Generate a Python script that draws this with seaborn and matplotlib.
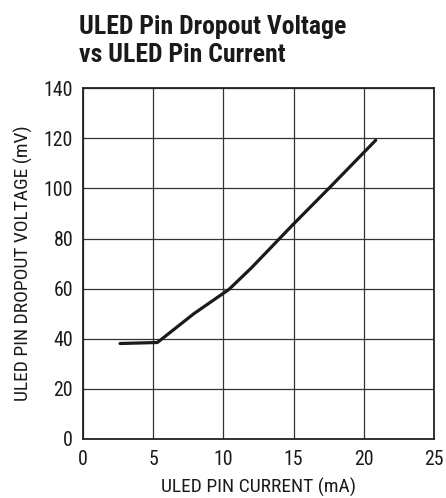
import matplotlib
matplotlib.use("Agg")
import matplotlib.pyplot as plt
import seaborn as sns
import pandas as pd

current_ma = [2.64, 5.3, 7.9, 10.4, 12.0, 15.0, 17.6, 20.85]
dropout_mv = [38.1, 38.5, 50.0, 59.7, 68.3, 85.8, 100.5, 119.2]
x_ticks = [0, 5, 10, 15, 20, 25]
y_ticks = [0, 20, 40, 60, 80, 100, 120, 140]

sns.set_theme(style="white")
plt.rcParams['font.family'] = ['Roboto Condensed', 'Liberation Sans', 'DejaVu Sans']

df = pd.DataFrame({"current": current_ma, "voltage": dropout_mv})

fig = plt.figure(figsize=(4.46, 4.98), dpi=100)
ax = fig.add_axes([0.186, 0.1185, 0.787, 0.7045])
sns.lineplot(data=df, x="current", y="voltage", ax=ax, color="#1a1a1a",
             linewidth=2.3, sort=False)
ax.set_xlim(0, 25)
ax.set_ylim(0, 140)
ax.set_xticks(x_ticks)
ax.set_yticks(y_ticks)
ax.grid(True, color="#333333", linewidth=0.9)
for s in ax.spines.values():
    s.set_color("#222222")
    s.set_linewidth(1.3)
ax.tick_params(axis="both", length=0, labelsize=14.3, colors="#1a1a1a")
ax.tick_params(axis="x", pad=8)
ax.tick_params(axis="y", pad=7)
ax.set_xlabel("ULED PIN CURRENT (mA)", fontsize=14, color="#1a1a1a", labelpad=6)
ax.set_ylabel("ULED PIN DROPOUT VOLTAGE (mV)", fontsize=14, color="#1a1a1a", labelpad=8)
fig.text(0.177, 0.970, "ULED Pin Dropout Voltage\nvs ULED Pin Current",
         fontsize=18.5, fontweight="bold", color="#1a1a1a", ha="left", va="top",
         linespacing=1.2)
fig.savefig("out.png", dpi=100)
